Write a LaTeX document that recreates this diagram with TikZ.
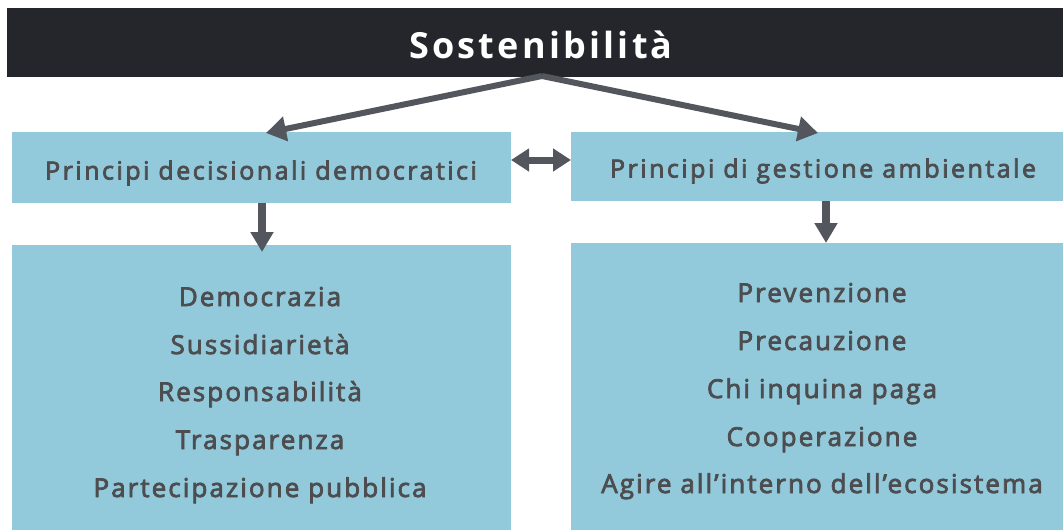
\documentclass[tikz,border=0pt]{standalone}
\usepackage{fontspec}
\setmainfont{Open Sans}
\newfontfamily\itemfont{Open Sans}[LetterSpace=8, FakeBold=3]
\newfontfamily\headfont{Open Sans}[LetterSpace=10, FakeBold=3]
\newfontfamily\titlefont{Open Sans Bold}[LetterSpace=9]
\usetikzlibrary{arrows.meta}
\definecolor{barc}{HTML}{25262B}
\definecolor{boxc}{HTML}{92CADC}
\definecolor{arrc}{HTML}{53575D}
\definecolor{txtc}{HTML}{4D4D50}
\tikzset{
  box/.style={fill=boxc, draw=none, inner sep=0pt, outer sep=0pt, anchor=north west},
  itemtxt/.style={font=\itemfont\fontsize{26}{30}\selectfont, text=txtc, anchor=base, inner sep=0pt},
  headtxt/.style={font=\headfont\fontsize{25}{28}\selectfont, text=txtc, anchor=base, inner sep=0pt},
  arr/.style={draw=arrc, line width=6pt, -{Triangle[length=20pt,width=24pt]}},
  darr/.style={draw=arrc, line width=7pt, {Triangle[length=18pt,width=22pt]}-{Triangle[length=18pt,width=22pt]}},
  varr/.style={draw=arrc, line width=8pt, -{Triangle[length=20pt,width=22pt]}}
}
\begin{document}
\begin{tikzpicture}[x=1pt,y=-1pt]
\useasboundingbox (0,0) rectangle (1063,530);
\node[fill=barc, inner sep=0pt, anchor=north west, minimum width=1056pt, minimum height=69pt] (bar) at (7,8) {};
\node[font=\titlefont\fontsize{36}{40}\selectfont, text=white, anchor=base, inner sep=0pt] (title) at (541,58) {Sostenibilità};
\node[box, minimum width=499pt, minimum height=71pt] (lh) at (12,132) {};
\node[box, minimum width=492pt, minimum height=69pt] (rh) at (571,132) {};
\node[box, minimum width=499pt, minimum height=285pt] (lb) at (12,245) {};
\node[box, minimum width=492pt, minimum height=287pt] (rb) at (571,243) {};
\node[headtxt] (lht) at (261,179.5) {Principi decisionali democratici};
\node[headtxt] (rht) at (823,177.5) {Principi di gestione ambientale};
\node[itemtxt] (l1) at (260,306) {Democrazia};
\node[itemtxt] (l2) at (260,354) {Sussidiarietà};
\node[itemtxt] (l3) at (260,401) {Responsabilità};
\node[itemtxt] (l4) at (260,449) {Trasparenza};
\node[itemtxt] (l5) at (260,497) {Partecipazione pubblica};
\node[itemtxt] (r1) at (822,302) {Prevenzione};
\node[itemtxt] (r2) at (822,350) {Precauzione};
\node[itemtxt] (r3) at (822,398) {Chi inquina paga};
\node[itemtxt] (r4) at (822,446) {Cooperazione};
\node[itemtxt] (r5) at (822,493) {Agire all’interno dell’ecosistema};
\coordinate (top) at (542,76);
\coordinate (ltip) at (266,133);
\coordinate (rtip) at (818,133);
\draw[arr] (top) -- (ltip);
\draw[arr] (top) -- (rtip);
\draw[darr] (lh.east |- 0,160) -- (rh.west |- 0,160);
\draw[varr] (lh.south -| 262,0) -- (262,252);
\draw[varr] (rh.south -| 826,0) -- (rb.north -| 826,0);
\end{tikzpicture}
\end{document}
